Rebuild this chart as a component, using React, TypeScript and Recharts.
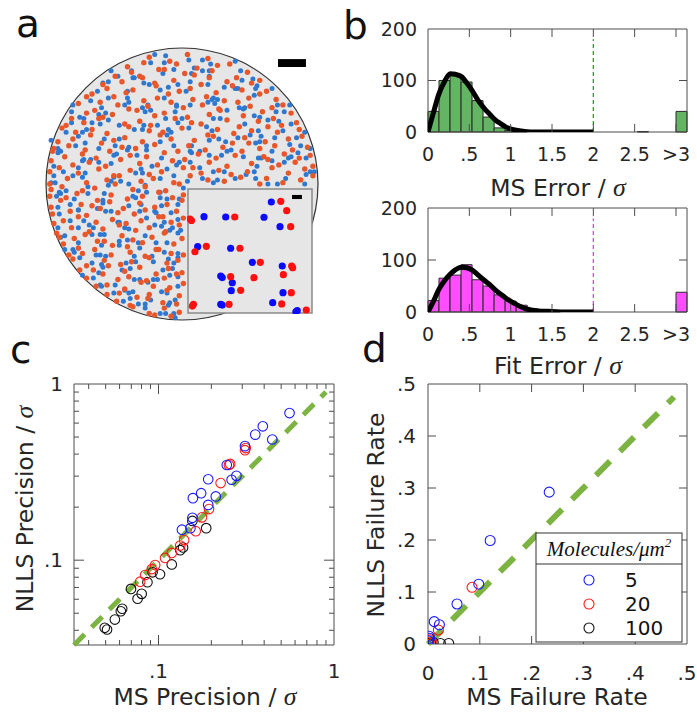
import React from 'react';
import {
  ComposedChart, ScatterChart, Scatter, Line, XAxis, YAxis,
  ReferenceArea, ReferenceLine, ReferenceDot,
} from 'recharts';

const SANS = '"DejaVu Sans", sans-serif';
const SERIF = '"Liberation Serif", "DejaVu Serif", serif';
const TEXT = '#262626';
const BOX = '#4d4d4d';
const GREEN_DASH = '#7cb342';

// ---------- panel a: molecule sites [red x, red y, blue dx, blue dy] in circle units (radius 100)
const moleculeSites: number[][] = [
  [-24,93,4,2],[-9,90,-3,4],[4,95,1,-4],[19,92,-4,-1],
  [-40,86,3,-3],[-28,89,5,0],[-13,84,0,5],[-4,88,-2,-4],[11,85,4,-2],[26,87,-5,1],[35,88,4,2],
  [-49,79,-3,4],[-37,82,1,-4],[-31,79,-4,-1],[-17,84,3,-3],[2,81,5,0],[9,80,0,5],[22,83,-2,-4],[40,78,4,-2],[48,82,-5,1],
  [-58,73,4,2],[-44,75,-3,4],[-29,78,1,-4],[-20,74,-4,-1],[-6,76,3,-3],[14,73,5,0],[20,78,0,5],[33,75,-2,-4],[51,74,4,-2],[57,76,-5,1],
  [-66,66,4,2],[-55,70,-3,4],[-41,67,1,-4],[-36,69,-4,-1],[-19,72,3,-3],[-2,68,5,0],[6,70,0,5],[25,67,-2,-4],[37,72,4,-2],[44,69,-5,1],[62,68,4,2],
  [-70,64,3,-3],[-60,60,1,-4],[-50,64,-4,-1],[-28,61,3,-3],[-18,63,5,0],[-10,66,0,5],[8,62,-2,-4],[18,64,4,-2],[31,61,-5,1],[49,63,4,2],[57,66,-3,4],[69,62,1,-4],
  [-76,59,-4,-1],[-64,54,3,-3],[-47,58,5,0],[-39,55,0,5],[-25,57,-2,-4],[-8,60,4,-2],[1,56,-5,1],[15,58,4,2],[27,55,-3,4],[41,60,1,-4],[50,57,-4,-1],[66,56,3,-3],[74,58,5,0],
  [-81,48,0,5],[-70,52,-2,-4],[-58,49,4,-2],[-51,51,-5,1],[-33,54,4,2],[-20,50,-3,4],[-13,52,1,-4],[4,49,-4,-1],[20,51,3,-3],[28,54,5,0],[45,50,0,5],[59,53,-2,-4],[67,48,4,-2],[80,52,-5,1],
  [-85,43,4,2],[-72,45,-3,4],[-61,48,1,-4],[-42,44,-4,-1],[-31,46,3,-3],[-23,43,5,0],[-5,48,0,5],[7,45,-2,-4],[14,44,4,-2],[33,47,-5,1],[42,42,4,2],[56,46,-3,4],[73,43,1,-4],[84,45,-4,-1],
  [-88,41,3,-3],[-78,38,5,0],[-66,40,0,5],[-55,37,-2,-4],[-39,42,4,-2],[-24,39,-5,1],[-14,38,4,2],[0,41,-3,4],[19,36,1,-4],[26,40,-4,-1],[38,37,3,-3],[51,39,5,0],[63,42,0,5],[70,38,-2,-4],[86,40,4,-2],
  [-91,31,-5,1],[-80,33,4,2],[-67,36,-3,4],[-50,32,1,-4],[-42,34,-4,-1],[-29,31,3,-3],[-16,36,5,0],[-8,33,0,5],[9,32,-2,-4],[23,35,4,-2],[37,30,-5,1],[46,34,4,2],[61,31,-3,4],[78,33,1,-4],[88,35,-4,-1],
  [-94,26,3,-3],[-83,28,5,0],[-71,25,0,5],[-59,30,-2,-4],[-44,27,4,-2],[-34,26,-5,1],[-20,29,4,2],[-3,24,-3,4],[5,28,1,-4],[17,25,-4,-1],[30,27,3,-3],[49,30,5,0],[57,26,0,5],[68,28,-2,-4],[81,25,4,-2],[92,27,-5,1],
  [-95,24,4,2],[-86,20,-3,4],[-73,22,1,-4],[-63,19,-4,-1],[-53,24,3,-3],[-38,21,5,0],[-26,20,0,5],[-13,23,-2,-4],[2,18,4,-2],[12,22,-5,1],[25,19,4,2],[39,21,-3,4],[44,24,1,-4],[60,20,-4,-1],[75,22,3,-3],[86,19,5,0],[94,21,0,5],
  [-96,17,2,-4],[-80,14,4,-2],[-68,16,-5,1],[-56,13,4,2],[-45,18,-3,4],[-31,15,1,-4],[-18,14,-4,-1],[-7,17,3,-3],[8,12,5,0],[20,16,0,5],[33,13,-2,-4],[51,15,4,-2],[63,18,-5,1],[71,14,4,2],[83,16,-3,4],[96,13,1,-4],
  [-97,9,3,-3],[-90,12,3,-3],[-76,8,5,0],[-61,11,0,5],[-50,6,-2,-4],[-38,10,4,-2],[-24,7,-5,1],[-15,9,4,2],[1,12,-3,4],[14,8,1,-4],[27,10,-4,-1],[36,7,3,-3],[48,9,5,0],[66,12,0,5],[78,8,-2,-4],[90,11,4,-2],
  [-97,0,4,1],[-84,4,4,2],[-70,1,-3,4],[-55,3,1,-4],[-46,6,-4,-1],[-30,2,3,-3],[-21,4,5,0],[-6,1,0,5],[6,6,-2,-4],[19,3,4,-2],[31,2,-5,1],[43,5,4,2],[57,0,-3,4],[62,4,1,-4],[74,1,-4,-1],[87,3,3,-3],[96,6,-5,1],
  [-96,-4,0,5],[-88,-2,-2,-4],[-73,-5,4,-2],[-64,-3,-5,1],[-49,0,4,2],[-36,-4,-3,4],[-27,-2,1,-4],[-12,-5,-4,-1],[-2,0,3,-3],
  [-97,-9,5,0],[-85,-10,0,5],[-77,-7,-2,-4],[-62,-12,4,-2],[-52,-8,-5,1],[-40,-11,4,2],[-29,-9,-3,4],[-17,-6,1,-4],[-7,-10,-4,-1],[1,-8,-3,-3],
  [-96,-17,5,0],[-89,-12,0,5],[-74,-15,-2,-4],[-66,-16,4,-2],[-53,-13,-5,1],[-43,-18,4,2],[-31,-14,-3,4],[-20,-17,1,-4],[-11,-15,-4,-1],[0,-12,-3,-3],
  [-95,-22,5,0],[-82,-20,0,5],[-70,-23,-2,-4],[-60,-18,4,-2],[-47,-21,-5,1],[-35,-22,4,2],[-27,-19,-3,4],[-14,-24,1,-4],[-4,-20,-4,-1],
  [-94,-29,3,-3],[-87,-27,5,0],[-76,-24,0,5],[-63,-28,-2,-4],[-51,-26,4,-2],[-41,-29,-5,1],[-30,-27,4,2],[-17,-24,-3,4],[-8,-28,1,-4],[1,-25,-4,-1],
  [-92,-36,3,-3],[-81,-32,5,0],[-68,-35,0,5],[-58,-33,-2,-4],[-46,-30,4,-2],[-34,-34,-5,1],[-24,-32,4,2],[-12,-35,-3,4],[-2,-30,1,-4],
  [-90,-39,4,1],[-79,-40,3,-3],[-71,-37,5,0],[-57,-42,0,5],[-44,-38,-2,-4],[-36,-41,4,-2],[-22,-39,-5,1],[-13,-36,4,2],[0,-40,-3,4],
  [-87,-44,1,-4],[-76,-47,-4,-1],[-62,-42,3,-3],[-51,-45,5,0],[-40,-46,0,5],[-29,-43,-2,-4],[-17,-48,4,-2],[-6,-44,-5,1],
  [-83,-52,4,2],[-73,-51,-3,4],[-64,-48,1,-4],[-52,-52,-4,-1],[-38,-50,3,-3],[-27,-53,5,0],[-19,-48,0,5],[-8,-51,-2,-4],[1,-52,-4,-2],
  [-80,-55,5,1],[-70,-60,4,2],[-57,-56,-3,4],[-45,-59,1,-4],[-37,-57,-4,-1],[-24,-54,3,-3],[-11,-58,5,0],[-3,-56,0,5],
  [-75,-63,2,-4],[-65,-63,4,-2],[-54,-60,-5,1],[-42,-64,4,2],[-31,-61,-3,4],[-19,-66,1,-4],[-10,-62,-4,-1],[0,-65,-3,-3],
  [-70,-69,5,0],[-58,-66,0,5],[-47,-70,-2,-4],[-39,-68,4,-2],[-26,-71,-5,1],[-13,-69,4,2],[-4,-66,-3,4],
  [-63,-75,3,1],[-55,-74,-4,-1],[-42,-77,3,-3],[-30,-72,5,0],[-21,-75,0,5],[-9,-76,-2,-4],[1,-73,-4,-2],
  [-55,-81,5,1],[-46,-80,4,2],[-33,-83,-3,4],[-24,-81,1,-4],[-11,-78,-4,-1],[-2,-82,-3,-3],
  [-48,-86,5,0],[-38,-89,0,5],[-25,-84,-2,-4],[-14,-87,4,-2],[-4,-88,-5,1],
  [-36,-90,4,2],[-24,-95,-3,4],[-13,-91,1,-4],[-2,-94,-4,-1],
  [-20,-96,4,1],[-8,-97,3,-1],
];
const selectionBox = { x1: -64.5, x2: -44, y1: 37.4, y2: 57.9 };
const mainScaleBar = { x1: 70.4, x2: 90.9, y1: 85.8, y2: 91.6 };

// inset (zoomed region) dot positions, 0..100 local units, y downward
const insetBlue: number[][] = [
  [67.2,10.5],[12.9,22.3],[30.4,22.6],[61.3,22.8],[74.2,30.4],[7.8,46.5],[34.4,47.8],[51.9,59.1],
  [76.0,62.1],[26.4,70.2],[27.6,71.4],[35.7,75.6],[34.9,82.0],[76.6,83.6],[26.4,93.0],[27.6,93.6],[68.3,91.7],[88.1,98.1],[87.0,99.0],
];
const insetRed: number[][] = [
  [74.8,9.9],[79.6,17.5],[1.6,24.2],[2.8,25.4],[37.7,22.6],[82.8,30.4],[14.8,46.2],[5.6,50.6],[41.9,47.8],
  [58.3,59.1],[83.6,62.1],[84.4,63.5],[76.9,69.1],[34.4,70.7],[53.2,71.5],[42.5,81.7],[83.3,83.6],[3.5,94.4],[4.4,93.0],
  [33.1,93.0],[75.6,92.7],[95.4,97.6],
];
const insetScaleBar = { x1: 83.9, x2: 91.9, y1: 4.8, y2: 8.1 };

// ---------- panel b: histograms
const binStarts = [0, 0.133, 0.267, 0.4, 0.533, 0.667, 0.8, 0.933, 1.067, 1.2, 1.333, 1.467];
const BIN_W = 0.133;
const msErrorCounts = [40, 100, 112, 97, 61, 29, 8, 3, 1, 0, 0, 0];
const fitErrorCounts = [22, 65, 71, 91, 62, 50, 33, 21, 13, 6, 3, 1];
const msErrorTailStarts = [2.533];
const msErrorTailCounts = [1];
const msErrorOverflow = 40;
const fitErrorOverflow = 38;
const OVERFLOW_START = 3;

const msCurveX = [0, 0.07, 0.13, 0.2, 0.27, 0.33, 0.4, 0.47, 0.54, 0.6, 0.68, 0.75, 0.81, 0.88, 0.94, 1.05, 1.17, 1.3, 1.5, 2.0];
const msCurveY = [0, 40, 73, 98, 113, 112, 108, 95, 79, 63, 46, 34, 24, 16, 10, 4, 1, 0, 0, 0];
const fitCurveX = [0, 0.07, 0.13, 0.2, 0.27, 0.33, 0.4, 0.47, 0.54, 0.6, 0.68, 0.75, 0.81, 0.88, 0.94, 1.05, 1.17, 1.33, 1.5, 1.7, 2.0];
const fitCurveY = [0, 22, 43, 60, 73, 81, 86, 85, 80, 72, 61, 52, 43, 34, 27, 16, 7, 2, 1, 0, 0];

const histXTicks = [0, 0.5, 1, 1.5, 2, 2.5, 3];
const histXLabels = ['0', '.5', '1', '1.5', '2', '2.5', '>3'];
const histYTicks = [0, 100, 200];
const histYLabels = ['0', '100', '200'];
const cutoffX = 2;
const cutoffTop = 180;

// ---------- panel c: precision (log-log)
const precBlue: number[][] = [
  [0.558,0.684],[0.393,0.575],[0.356,0.516],[0.445,0.484],[0.311,0.444],[0.245,0.347],[0.278,0.301],[0.261,0.286],
  [0.192,0.288],[0.175,0.240],[0.157,0.225],[0.212,0.230],[0.192,0.206],[0.156,0.174],[0.136,0.149],[0.152,0.152],
];
const precRed: number[][] = [
  [0.311,0.421],[0.314,0.433],[0.252,0.347],[0.256,0.352],[0.226,0.274],[0.194,0.195],[0.177,0.175],[0.163,0.146],
  [0.140,0.130],[0.133,0.121],[0.119,0.110],[0.109,0.103],[0.0957,0.0938],[0.0916,0.0890],[0.0839,0.0823],[0.0786,0.0755],
];
const precBlack: number[][] = [
  [0.156,0.167],[0.187,0.152],[0.138,0.118],[0.133,0.114],[0.119,0.0946],[0.102,0.0832],[0.0925,0.0853],[0.0865,0.0750],
  [0.0802,0.0644],[0.0760,0.0604],[0.0697,0.0687],[0.0621,0.0530],[0.0610,0.0513],[0.0564,0.0460],[0.0494,0.0413],[0.0509,0.0404],
];
const logTicks = [0.04,0.05,0.06,0.07,0.08,0.09,0.1,0.2,0.3,0.4,0.5,0.6,0.7,0.8,0.9,1];
const logMajor = [0.1, 1];
const logMajorLabels = ['.1', '1'];
const LOG_MIN = 0.033;
const identityC = [0.033, 0.9];

// ---------- panel d: failure rate
const failBlue: number[][] = [
  [0.234,0.292],[0.120,0.199],[0.098,0.115],[0.056,0.077],[0.012,0.043],[0.022,0.037],[0.002,0.015],[0.003,0.011],[0.001,0.006],
];
const failRed: number[][] = [
  [0.085,0.109],[0.020,0.027],[0.004,0.008],[0.001,0.003],[0.008,0.002],
];
const failBlack: number[][] = [
  [0.040,0.001],[0.024,0.001],[0.006,0.001],[0.001,0.001],[0.010,0.003],
];
const linTicks = [0, 0.1, 0.2, 0.3, 0.4, 0.5];
const linLabels = ['0', '.1', '.2', '.3', '.4', '.5'];
const identityD = [0, 0.475];
const legendLabels = ['5', '20', '100'];
const seriesColors = ['#1a1aff', '#ff1a1a', '#111111'];

// ---------- helpers
const pts = (a: number[][]) => a.map(([x, y]) => ({ x, y }));
const near = (a: number, b: number) => Math.abs(a - b) < 1e-6;
const idxOf = (arr: number[], v: number) => arr.findIndex((t) => near(t, v));

function makeTick(
  side: 'left' | 'bottom', m: number, span: number,
  lenOf: (v: number) => number, labelOf: (v: number) => string, fs: number,
) {
  return (props: any) => {
    const { x, y, payload } = props;
    const v = Number(payload.value);
    const len = lenOf(v);
    const label = labelOf(v);
    if (side === 'left') {
      const a = x + m;
      return (
        <g>
          {len > 0 && <line x1={a} x2={a + len} y1={y} y2={y} stroke={BOX} strokeWidth={1} />}
          {len > 0 && <line x1={a + span - len} x2={a + span} y1={y} y2={y} stroke={BOX} strokeWidth={1} />}
          {label && (
            <text x={x} y={y} dy="0.36em" textAnchor="end" fontSize={fs} fontFamily={SANS} fill={TEXT}>{label}</text>
          )}
        </g>
      );
    }
    const a = y - m;
    return (
      <g>
        {len > 0 && <line x1={x} x2={x} y1={a} y2={a - len} stroke={BOX} strokeWidth={1} />}
        {len > 0 && <line x1={x} x2={x} y1={a - span} y2={a - span + len} stroke={BOX} strokeWidth={1} />}
        {label && (
          <text x={x} y={y} dy="0.73em" textAnchor="middle" fontSize={fs} fontFamily={SANS} fill={TEXT}>{label}</text>
        )}
      </g>
    );
  };
}

const solidDot = (r: number, fill: string) => (p: any) => <circle cx={p.cx} cy={p.cy} r={r} fill={fill} />;
const ringDot = (r: number, stroke: string) => (p: any) => (
  <circle cx={p.cx} cy={p.cy} r={r} fill="none" stroke={stroke} strokeWidth={1.1} />
);

// ---------- panel a
function PanelA() {
  const red = moleculeSites.map(([rx, ry]) => ({ x: rx, y: ry }));
  const blue = moleculeSites.map(([rx, ry, dx, dy]) => ({ x: rx + dx, y: ry + dy }));
  return (
    <div style={{ position: 'absolute', left: 32, top: 34 }}>
      <ScatterChart width={300} height={300} margin={{ top: 0, right: 0, bottom: 0, left: 0 }}>
        <XAxis type="number" dataKey="x" domain={[-110, 110]} hide />
        <YAxis type="number" dataKey="y" domain={[-110, 110]} hide />
        <ReferenceDot x={0} y={0} r={136} fill="#e6e6e6" stroke="#333" strokeWidth={1.2} />
        <Scatter data={blue} shape={solidDot(2.5, '#2f78cf')} isAnimationActive={false} />
        <Scatter data={red} shape={solidDot(2.7, '#e8562a')} isAnimationActive={false} />
        <ReferenceArea {...selectionBox} fill="none" stroke="#111" strokeWidth={2} />
        <ReferenceArea {...mainScaleBar} fill="#000" fillOpacity={1} stroke="none" />
      </ScatterChart>
    </div>
  );
}

function Inset() {
  return (
    <div style={{ position: 'absolute', left: 187, top: 188 }}>
      <ScatterChart width={126} height={126} margin={{ top: 1, right: 1, bottom: 1, left: 1 }}>
        <XAxis type="number" dataKey="x" domain={[0, 100]} hide />
        <YAxis type="number" dataKey="y" domain={[0, 100]} reversed hide />
        <ReferenceArea x1={0} x2={100} y1={0} y2={100} fill="#e6e6e6" fillOpacity={1} stroke="#8a8a8a" strokeWidth={1.5} />
        <Scatter data={pts(insetBlue)} shape={solidDot(3.6, '#0a0aff')} isAnimationActive={false} />
        <Scatter data={pts(insetRed)} shape={solidDot(3.6, '#ff1010')} isAnimationActive={false} />
        <ReferenceArea {...insetScaleBar} fill="#000" fillOpacity={1} stroke="none" />
      </ScatterChart>
    </div>
  );
}

// ---------- panel b
function Histogram(props: {
  top: number; height: number; plotTop: number; plotH: number;
  counts: number[]; overflow: number; tailStarts: number[]; tailCounts: number[];
  curveX: number[]; curveY: number[]; fill: string; cutColor: string;
}) {
  const { top, height, plotTop, plotH, counts, overflow, tailStarts, tailCounts, curveX, curveY, fill, cutColor } = props;
  const curve = curveX.map((x, i) => ({ x, y: curveY[i] }));
  const bars = [
    ...binStarts.map((s, i) => ({ s, c: counts[i] })),
    ...tailStarts.map((s, i) => ({ s, c: tailCounts[i] })),
    { s: OVERFLOW_START, c: overflow },
  ].filter((b) => b.c > 0);
  const plotW = 259;
  const xTick = makeTick('bottom', 15, plotH, (v) => (v > 0 ? 8 : 0), (v) => histXLabels[idxOf(histXTicks, v)] ?? '', 19);
  const yTick = makeTick('left', 11, plotW, (v) => (near(v, 100) ? 8 : 0), (v) => histYLabels[idxOf(histYTicks, v)] ?? '', 19);
  return (
    <div style={{ position: 'absolute', left: 350, top }}>
      <ComposedChart width={347} height={height} data={curve} margin={{ top: plotTop, right: 10, bottom: 0, left: 0 }}>
        <XAxis type="number" dataKey="x" domain={[0, OVERFLOW_START + BIN_W]} allowDataOverflow ticks={histXTicks}
          interval={0} tickSize={0} tickMargin={15} tickLine={false} axisLine={false} tick={xTick} height={height - plotTop - plotH} />
        <YAxis type="number" domain={[0, 200]} allowDataOverflow ticks={histYTicks} interval={0} tickSize={0}
          tickMargin={11} tickLine={false} axisLine={false} tick={yTick} width={78} />
        {bars.map((b, i) => (
          <ReferenceArea key={i} x1={b.s} x2={b.s + BIN_W} y1={0} y2={b.c} fill={fill} fillOpacity={1} stroke="#2b2b2b" strokeWidth={1} />
        ))}
        <ReferenceLine segment={[{ x: cutoffX, y: 0 }, { x: cutoffX, y: cutoffTop }]} stroke={cutColor} strokeWidth={1.3} strokeDasharray="4 3" />
        <Line dataKey="y" type="monotone" stroke="#000" strokeWidth={5} dot={false} isAnimationActive={false} />
        <ReferenceArea x1={0} x2={OVERFLOW_START + BIN_W} y1={0} y2={200} fill="none" stroke={BOX} strokeWidth={1} />
      </ComposedChart>
    </div>
  );
}

// ---------- panel c
function PanelC() {
  const plotW = 260, plotH = 261;
  const lenOf = (v: number) => (near(v, 1) ? 0 : idxOf(logMajor, v) >= 0 ? 10 : 5);
  const labelOf = (v: number) => logMajorLabels[idxOf(logMajor, v)] ?? '';
  const xTick = makeTick('bottom', 18, plotH, lenOf, labelOf, 20);
  const yTick = makeTick('left', 11, plotW, lenOf, labelOf, 20);
  return (
    <div style={{ position: 'absolute', left: 0, top: 350 }}>
      <ScatterChart width={345} height={363} margin={{ top: 34, right: 11, bottom: 0, left: 0 }}>
        <XAxis type="number" dataKey="x" scale="log" domain={[LOG_MIN, 1]} allowDataOverflow ticks={logTicks} interval={0}
          tickSize={0} tickMargin={18} tickLine={false} axisLine={false} tick={xTick} height={68} />
        <YAxis type="number" dataKey="y" scale="log" domain={[LOG_MIN, 1]} allowDataOverflow ticks={logTicks} interval={0}
          tickSize={0} tickMargin={11} tickLine={false} axisLine={false} tick={yTick} width={74} />
        <ReferenceArea x1={LOG_MIN} x2={1} y1={LOG_MIN} y2={1} fill="none" stroke={BOX} strokeWidth={1} />
        <ReferenceLine segment={[{ x: identityC[0], y: identityC[0] }, { x: identityC[1], y: identityC[1] }]}
          stroke={GREEN_DASH} strokeWidth={5} strokeDasharray="15 10" />
        <Scatter data={pts(precBlack)} shape={ringDot(4.8, seriesColors[2])} isAnimationActive={false} />
        <Scatter data={pts(precRed)} shape={ringDot(4.8, seriesColors[1])} isAnimationActive={false} />
        <Scatter data={pts(precBlue)} shape={ringDot(4.8, seriesColors[0])} isAnimationActive={false} />
      </ScatterChart>
    </div>
  );
}

// ---------- panel d
function PanelD() {
  const plotW = 259, plotH = 260;
  const lenOf = (v: number) => (v > 0.001 && v < 0.499 ? 8 : 0);
  const labelOf = (v: number) => linLabels[idxOf(linTicks, v)] ?? '';
  const xTick = makeTick('bottom', 21, plotH, lenOf, labelOf, 20);
  const yTick = makeTick('left', 12, plotW, lenOf, labelOf, 20);
  return (
    <div style={{ position: 'absolute', left: 350, top: 350 }}>
      <ScatterChart width={347} height={363} margin={{ top: 34, right: 10, bottom: 0, left: 0 }}>
        <XAxis type="number" dataKey="x" domain={[0, 0.5]} allowDataOverflow ticks={linTicks} interval={0}
          tickSize={0} tickMargin={21} tickLine={false} axisLine={false} tick={xTick} height={69} />
        <YAxis type="number" dataKey="y" domain={[0, 0.5]} allowDataOverflow ticks={linTicks} interval={0}
          tickSize={0} tickMargin={12} tickLine={false} axisLine={false} tick={yTick} width={78} />
        <ReferenceArea x1={0} x2={0.5} y1={0} y2={0.5} fill="none" stroke={BOX} strokeWidth={1} />
        <ReferenceLine segment={[{ x: identityD[0], y: identityD[0] }, { x: identityD[1], y: identityD[1] }]}
          stroke={GREEN_DASH} strokeWidth={6} strokeDasharray="20 14" />
        <Scatter data={pts(failBlack)} shape={ringDot(5, seriesColors[2])} isAnimationActive={false} />
        <Scatter data={pts(failRed)} shape={ringDot(5, seriesColors[1])} isAnimationActive={false} />
        <Scatter data={pts(failBlue)} shape={ringDot(5, seriesColors[0])} isAnimationActive={false} />
      </ScatterChart>
    </div>
  );
}

function Sigma() {
  return <tspan fontFamily={SERIF} fontStyle="italic" fontSize="1.1em">σ</tspan>;
}

function Overlay() {
  const lab = { fontFamily: SANS, fontSize: 23.5, fill: TEXT } as const;
  const big = { fontFamily: SANS, fontSize: 39, fill: '#111' } as const;
  return (
    <svg width={697} height={713} style={{ position: 'absolute', left: 0, top: 0, pointerEvents: 'none' }}>
      <text x={16} y={37} {...big}>a</text>
      <text x={343} y={39} {...big}>b</text>
      <text x={10} y={363} {...big}>c</text>
      <text x={362} y={362} {...big}>d</text>
      <text x={558} y={196} textAnchor="middle" {...lab}>MS Error / <Sigma /></text>
      <text x={558} y={374} textAnchor="middle" {...lab}>Fit Error / <Sigma /></text>
      <text x={205} y={705} textAnchor="middle" {...lab}>MS Precision / <Sigma /></text>
      <text x={557} y={705} textAnchor="middle" {...lab}>MS Failure Rate</text>
      <text x={33} y={509} textAnchor="middle" transform="rotate(-90 33 509)" {...lab}>NLLS Precision / <Sigma /></text>
      <text x={384} y={515} textAnchor="middle" transform="rotate(-90 384 515)" {...lab}>NLLS Failure Rate</text>
      <g>
        <rect x={536} y={533} width={146} height={109} fill="#fff" stroke="#333" strokeWidth={1} />
        <line x1={536} x2={682} y1={564} y2={564} stroke="#333" strokeWidth={1} />
        <text x={609} y={556} textAnchor="middle" fontFamily={SERIF} fontStyle="italic" fontSize={21} fill="#111">
          Molecules/μm<tspan fontSize={13} dy={-9}>2</tspan>
        </text>
        {legendLabels.map((l, i) => (
          <g key={l}>
            <circle cx={589} cy={580 + i * 24} r={5} fill="none" stroke={seriesColors[i]} strokeWidth={1.1} />
            <text x={625} y={587 + i * 24} fontFamily={SANS} fontSize={20} fill="#111">{l}</text>
          </g>
        ))}
      </g>
    </svg>
  );
}

export default function App() {
  return (
    <div style={{ position: 'absolute', left: 0, top: 0, width: 697, height: 713, background: '#fff', overflow: 'hidden' }}>
      <PanelA />
      <Inset />
      <Histogram top={0} height={175} plotTop={29} plotH={103} counts={msErrorCounts} overflow={msErrorOverflow}
        tailStarts={msErrorTailStarts} tailCounts={msErrorTailCounts} curveX={msCurveX} curveY={msCurveY}
        fill="#63b463" cutColor="#2e9a2e" />
      <Histogram top={175} height={175} plotTop={33} plotH={104} counts={fitErrorCounts} overflow={fitErrorOverflow}
        tailStarts={[]} tailCounts={[]} curveX={fitCurveX} curveY={fitCurveY}
        fill="#ff4dff" cutColor="#ff33ff" />
      <PanelC />
      <PanelD />
      <Overlay />
    </div>
  );
}
